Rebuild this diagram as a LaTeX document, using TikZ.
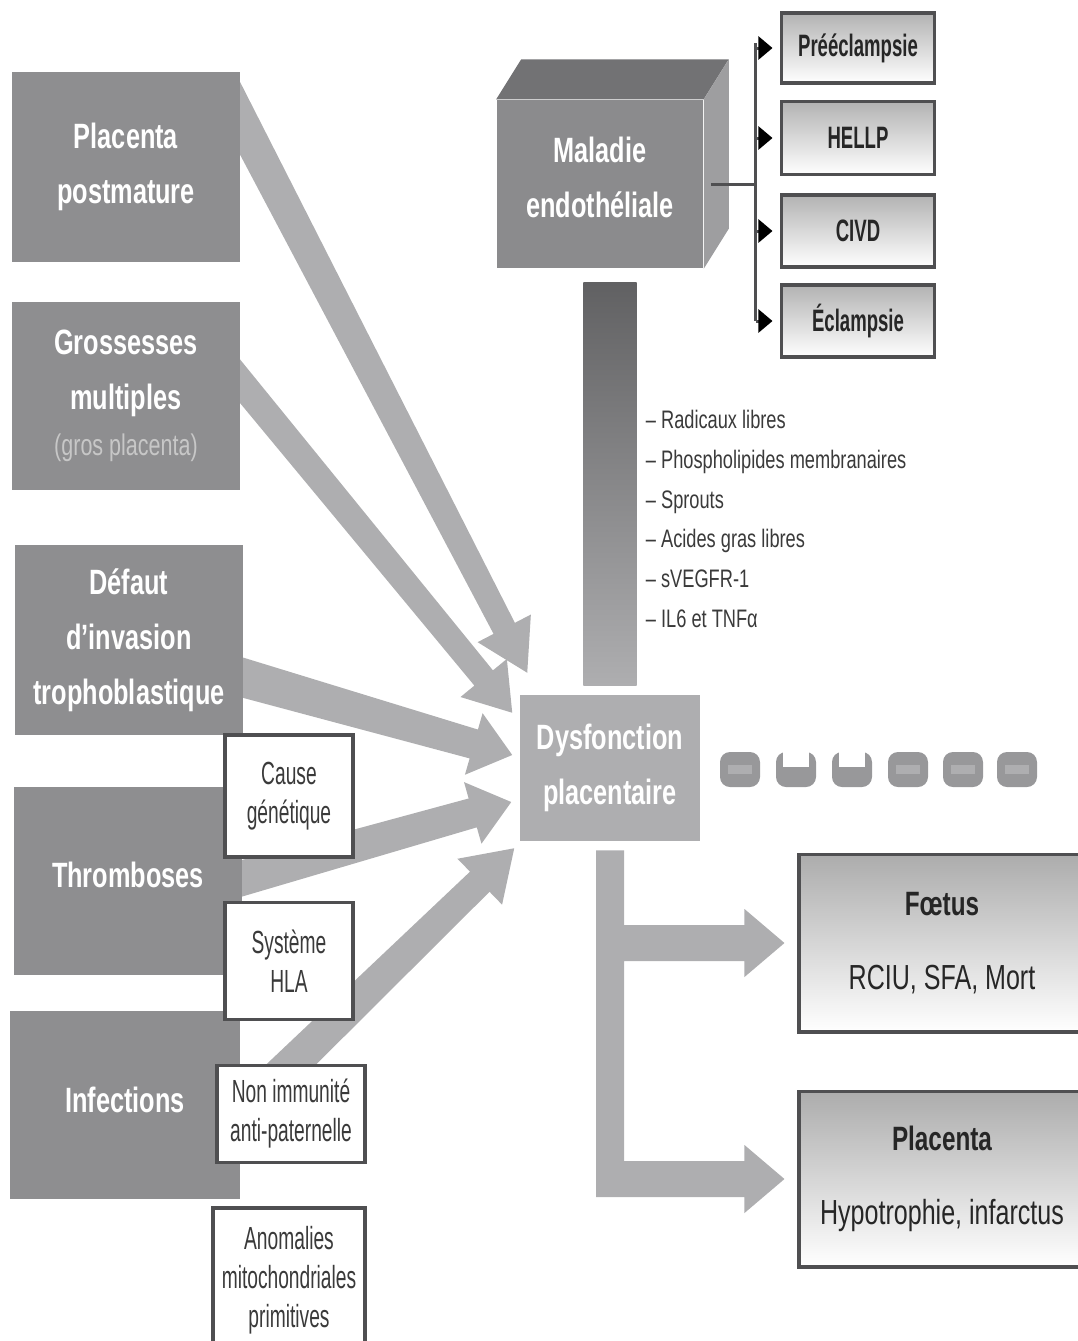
\documentclass[tikz,border=0pt]{standalone}
\usepackage{fontspec}
\setmainfont[FakeStretch=0.72]{Liberation Sans}
\newfontfamily\narrowfont[FakeStretch=0.6]{Liberation Sans}
\usetikzlibrary{calc,arrows.meta,positioning}
\definecolor{boxgrey}{HTML}{8E8E90}
\definecolor{flowgrey}{HTML}{AEAEB0}
\definecolor{cubetop}{HTML}{727274}
\definecolor{cubeside}{HTML}{9E9EA0}
\definecolor{cubefront}{HTML}{8B8B8D}
\definecolor{edgegrey}{HTML}{4F4F51}
\definecolor{labelgrey}{HTML}{3A3A3A}
\definecolor{dotgrey}{HTML}{98989A}
\pgfdeclarelayer{back}
\pgfsetlayers{back,main}
\newcommand{\fatarrow}[6]{%
	\coordinate (fa-a) at ($(#1)!-0.35cm!(#2)$);
	\coordinate (fa-b) at ($(#2)!#6!(#1)$);
	\fill[flowgrey] ($(fa-a)!#3!90:(#2)$) -- ($(fa-b)!#4!90:(#2)$) -- ($(fa-b)!#5!90:(#2)$) -- (#2) -- ($(fa-b)!#5!-90:(#2)$) -- ($(fa-b)!#4!-90:(#2)$) -- ($(fa-a)!#3!-90:(#2)$) -- cycle;}

\begin{document}
\begin{tikzpicture}[x=0.01cm,y=-0.01cm,
	darkbox/.style={fill=boxgrey,text=white,font=\fontsize{10}{15.6}\selectfont\bfseries,align=center,inner sep=0},
	causebox/.style={draw=edgegrey,line width=1pt,fill=white,text=labelgrey,font=\narrowfont\fontsize{9.1}{11.1}\selectfont,align=center,inner sep=0},
	illbox/.style={draw=edgegrey,line width=1.1pt,top color=gray!60,bottom color=white,text=black!85,font=\narrowfont\bfseries\fontsize{8.8}{10}\selectfont,minimum width=1.53cm,inner sep=0},
	outbox/.style={draw=edgegrey,line width=1.1pt,top color=gray!65,bottom color=white,text=black!85,font=\fontsize{9.9}{12}\selectfont,align=center,minimum width=2.85cm,inner sep=0},
	link/.style={draw=edgegrey,line width=0.85pt},
	headlink/.style={-{Triangle[length=4pt,width=6.5pt,color=black]},shorten >=0.07cm}]
	\useasboundingbox (0,0) rectangle (1078,1341);
	\clip (0,0) rectangle (1078,1341);
	\node[darkbox,minimum width=2.28cm,minimum height=1.9cm] (pp) at (126,167) {Placenta\\postmature};
	\node[darkbox,minimum width=2.28cm,minimum height=1.88cm] (gm) at (126,396) {Grossesses\\multiples\\[-2.5pt]{\mdseries\color{white!78!black}\fontsize{8.5}{10}\selectfont(gros placenta)}};
	\node[darkbox,minimum width=2.28cm,minimum height=1.9cm] (dit) at (129,640) {Défaut\\d’invasion\\trophoblastique};
	\node[darkbox,minimum width=2.28cm,minimum height=1.88cm,text depth=0.12cm] (thr) at (128,881) {Thromboses};
	\node[darkbox,minimum width=2.29cm,minimum height=1.88cm,text depth=0.1cm] (inf) at (125,1105) {Infections};
	\node[darkbox,fill=cubefront,minimum width=2.06cm,minimum height=1.68cm,text depth=0.14cm] (mal) at (600,184) {Maladie\\endothéliale};
	\fill[cubetop] (mal.north west) -- ++(25,-40) -- ($(mal.north east)+(25,-40)$) -- (mal.north east) -- cycle;
	\fill[cubeside] (mal.north east) -- ++(25,-40) -- ($(mal.south east)+(25,-40)$) -- (mal.south east) -- cycle;
	\node[darkbox,fill=flowgrey,minimum width=1.8cm,minimum height=1.45cm] (dys) at (610,768) {Dysfonction\\placentaire};
	\node[top color=cubetop!85!black,bottom color=flowgrey,minimum width=0.53cm,minimum height=4.02cm,inner sep=0] (bar) at (610,484) {};
	\node[anchor=west,align=left,text=labelgrey,font=\fontsize{7.2}{11.3}\selectfont,inner sep=0] (lst) at ($(bar.east)+(8,35)$) {– Radicaux libres\\– Phospholipides membranaires\\– Sprouts\\– Acides gras libres\\– sVEGFR-1\\– IL6 et TNFα};
	\node[illbox,minimum height=0.7cm] (pre) at (858,48) {Prééclampsie};
	\node[illbox,minimum height=0.73cm] (hel) at (858,138) {HELLP};
	\node[illbox,minimum height=0.72cm] (civ) at (858,231) {CIVD};
	\node[illbox,minimum height=0.72cm] (ecl) at (858,321) {Éclampsie};
	\coordinate (hub) at ($(mal.east)+(52,0)$);
	\draw[link] ($(mal.east)+(7,0)$) -- (hub);
	\draw[link] ($(hub |- pre.west)+(0,-5)$) -- (hub |- ecl.west);
	\foreach \b in {pre,hel,civ,ecl}
		\draw[link,headlink] (hub |- \b.west) -- (\b.west);
	\foreach \x/\cup in {740/0,796/1,852/1,908/0,963/0,1017/0}{
		\fill[dotgrey,rounded corners=0.1cm] (\x-20,752) rectangle (\x+20,787);
		\ifnum\cup=1
			\fill[white] (\x-13,748) rectangle (\x+13,767);
		\else
			\fill[flowgrey] (\x-12,765) rectangle (\x+12,774);
		\fi
	}
	\node[outbox,minimum height=1.77cm] (foe) at (942,943) {{\bfseries\fontsize{9.6}{10}\selectfont Fœtus}\\[9pt]RCIU, SFA, Mort};
	\node[outbox,minimum height=1.75cm] (plc) at (942,1179) {{\bfseries\fontsize{9.6}{10}\selectfont Placenta}\\[9pt]Hypotrophie, infarctus};
	\coordinate (ds) at ($(dys.south)+(0,9)$);
	\coordinate (t1) at ($(foe.west)+(-13,0)$);
	\coordinate (t2) at ($(plc.west)+(-13,0)$);
	\fill[flowgrey] ($(ds)+(-14,0)$) -- ($(ds)+(14,0)$) -- ($(ds |- t1)+(14,-18)$) -- ($(t1)+(-40,-18)$) -- ($(t1)+(-40,-34)$) -- (t1) -- ($(t1)+(-40,34)$) -- ($(t1)+(-40,18)$) -- ($(ds |- t1)+(14,18)$) -- ($(ds |- t2)+(14,-18)$) -- ($(t2)+(-40,-18)$) -- ($(t2)+(-40,-34)$) -- (t2) -- ($(t2)+(-40,34)$) -- ($(t2)+(-40,18)$) -- ($(ds |- t2)+(-14,18)$) -- cycle;
	\node[causebox,minimum width=1.28cm,minimum height=1.22cm] (cg) at (289,796) {Cause\\génétique};
	\node[causebox,minimum width=1.28cm,minimum height=1.17cm] (hla) at (289,961) {Système\\HLA};
	\node[causebox,minimum width=1.48cm,minimum height=0.97cm] (nip) at (291,1114) {Non immunité\\anti-paternelle};
	\node[causebox,minimum width=1.52cm,minimum height=1.52cm,text depth=0.14cm] (amp) at (289,1284) {Anomalies\\mitochondriales\\primitives};
	\begin{pgfonlayer}{back}
		\coordinate (s1) at ($(pp.north east)+(0,49)$);
		\coordinate (e1) at ($(dys.north west)+(8,-22)$);
		\coordinate (s2) at ($(gm.north east)+(0,81)$);
		\coordinate (e2) at ($(dys.north west)+(-7,18)$);
		\coordinate (s3) at ($(dit.east)+(0,38)$);
		\coordinate (e3) at ($(dys.west)+(-7,-13)$);
		\coordinate (s4) at ($(thr.east)+(0,-3)$);
		\coordinate (e4) at ($(dys.west)+(-8,34)$);
		\coordinate (s5) at ($(nip.north)+(-9,10)$);
		\coordinate (e5) at ($(dys.south west)+(-5,7)$);
		\fatarrow{s1}{e1}{0.17cm}{0.12cm}{0.3cm}{0.5cm}
		\fatarrow{s2}{e2}{0.14cm}{0.12cm}{0.3cm}{0.45cm}
		\fatarrow{s3}{e3}{0.2cm}{0.15cm}{0.32cm}{0.4cm}
		\fatarrow{s4}{e4}{0.18cm}{0.15cm}{0.32cm}{0.4cm}
		\fatarrow{s5}{e5}{0.18cm}{0.14cm}{0.32cm}{0.48cm}
	\end{pgfonlayer}
\end{tikzpicture}
\end{document}
